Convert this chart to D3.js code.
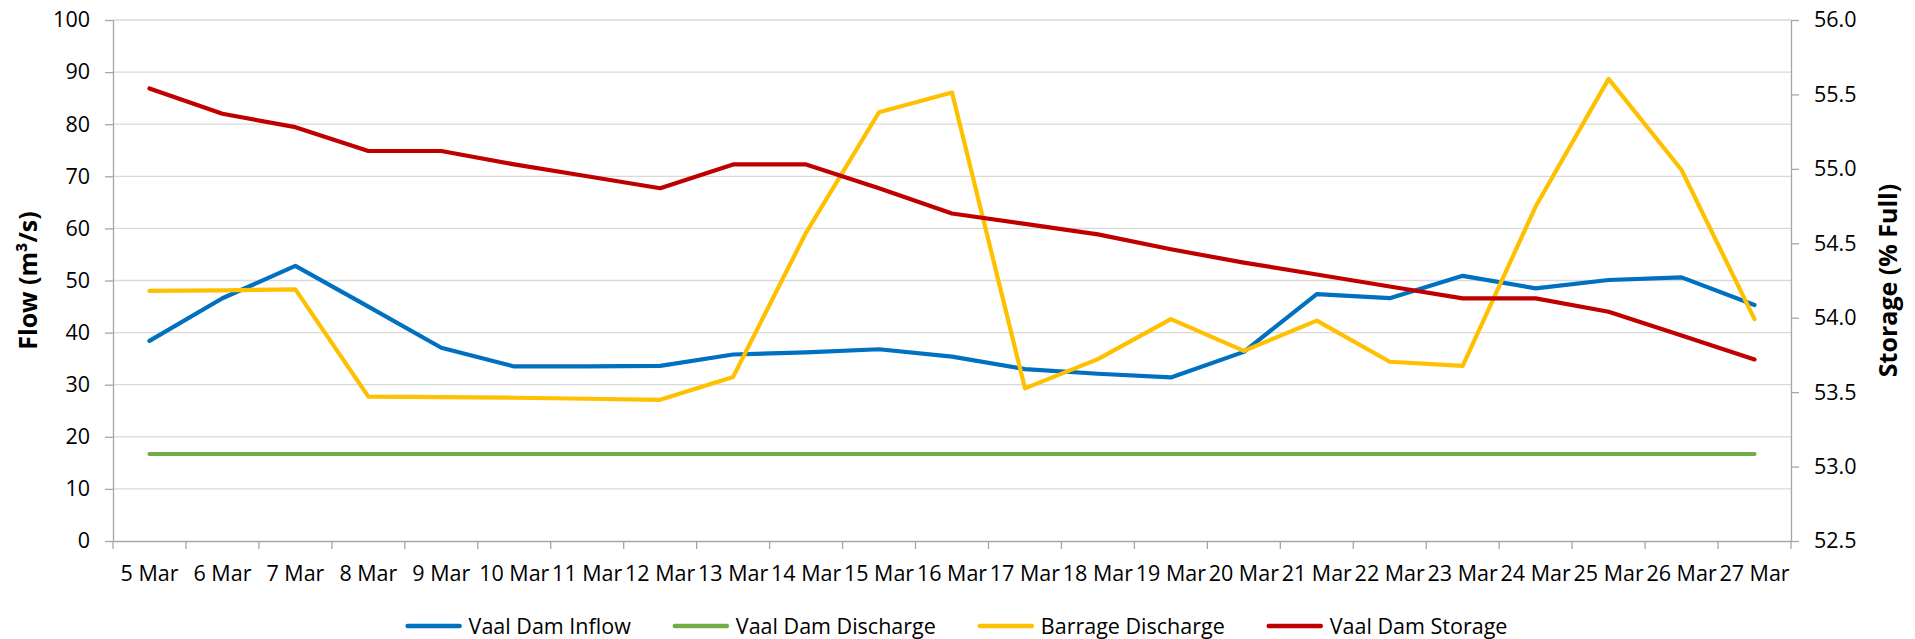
<!DOCTYPE html>
<html>
<head>
<meta charset="utf-8">
<script src="https://cdn.jsdelivr.net/npm/d3@7"></script>
<style>
  body { margin: 0; background: #fff; }
  text { font-family: "Open Sans", sans-serif; fill: #000; }
</style>
</head>
<body>
<div id="chart"></div>
<script>
// 5 Mar - 27 Mar
const DATES = [
  "5 Mar", "6 Mar", "7 Mar", "8 Mar", "9 Mar", "10 Mar", "11 Mar", "12 Mar",
  "13 Mar", "14 Mar", "15 Mar", "16 Mar", "17 Mar", "18 Mar", "19 Mar", "20 Mar",
  "21 Mar", "22 Mar", "23 Mar", "24 Mar", "25 Mar", "26 Mar", "27 Mar",
];

// m3/s
const VAAL_INFLOW = [
  38.4, 46.6, 52.8, 45.0, 37.1, 33.5, 33.5, 33.6, 35.8, 36.2, 36.8, 35.4,
  33.0, 32.1, 31.4, 36.3, 47.4, 46.6, 50.9, 48.5, 50.1, 50.6, 45.3,
];
const VAAL_DISCHARGE = [
  16.7, 16.7, 16.7, 16.7, 16.7, 16.7, 16.7, 16.7, 16.7, 16.7, 16.7, 16.7,
  16.7, 16.7, 16.7, 16.7, 16.7, 16.7, 16.7, 16.7, 16.7, 16.7, 16.7,
];
const BARRAGE_DISCHARGE = [
  48.0, 48.1, 48.3, 27.7, 27.6, 27.5, 27.3, 27.1, 31.5, 59.2, 82.3, 86.1,
  29.3, 34.9, 42.6, 36.5, 42.3, 34.4, 33.6, 64.2, 88.7, 71.2, 42.6,
];
// % full
const VAAL_STORAGE = [
  55.54, 55.37, 55.28, 55.12, 55.12, 55.03, 54.95, 54.87, 55.03, 55.03, 54.87, 54.70,
  54.63, 54.56, 54.46, 54.37, 54.29, 54.21, 54.13, 54.13, 54.04, 53.88, 53.72,
];

const FLOW_TICKS = [0, 10, 20, 30, 40, 50, 60, 70, 80, 90, 100];
const STORAGE_TICKS = [52.5, 53.0, 53.5, 54.0, 54.5, 55.0, 55.5, 56.0];

const SERIES = [
  { name: "Vaal Dam Inflow", values: VAAL_INFLOW, color: "#0070c0", axis: "flow" },
  { name: "Vaal Dam Discharge", values: VAAL_DISCHARGE, color: "#70ad47", axis: "flow" },
  { name: "Barrage Discharge", values: BARRAGE_DISCHARGE, color: "#ffc000", axis: "flow" },
  { name: "Vaal Dam Storage", values: VAAL_STORAGE, color: "#c00000", axis: "storage" },
];

const renderChart = ({ element, width, height, margin }) => {
  const [top, right, bottom, left] = margin;
  const axisColor = "#a6a6a6";

  const x = d3.scaleBand().domain(DATES).range([0, width]);
  const y = d3.scaleLinear().domain([0, 100]).range([height, 0]);
  const y2 = d3.scaleLinear().domain([52.5, 56]).range([height, 0]);

  const svg = d3
    .select(element)
    .append("svg")
    .attr("width", width + left + right)
    .attr("height", height + top + bottom);

  const g = svg.append("g").attr("transform", `translate(${left},${top})`);

  // gridlines
  g.append("g")
    .selectAll("line")
    .data(FLOW_TICKS.filter((d) => d > 0))
    .join("line")
    .attr("x1", 0)
    .attr("x2", width)
    .attr("y1", (d) => y(d))
    .attr("y2", (d) => y(d))
    .attr("stroke", "#d9d9d9")
    .attr("stroke-width", 1.3);

  // x axis: labels centered, tick marks between categories
  const xAxis = g
    .append("g")
    .attr("transform", `translate(0,${height})`)
    .call(d3.axisBottom(x).tickSize(0).tickSizeOuter(0).tickPadding(25));
  xAxis.selectAll("text").style("font-size", "21.5px");

  g.append("g")
    .selectAll("line")
    .data([...DATES.map((d) => x(d)), width])
    .join("line")
    .attr("x1", (d) => d)
    .attr("x2", (d) => d)
    .attr("y1", height)
    .attr("y2", height + 8)
    .attr("stroke", axisColor)
    .attr("stroke-width", 1.3);

  const yAxis = g
    .append("g")
    .call(d3.axisLeft(y).tickValues(FLOW_TICKS).tickSize(8).tickSizeOuter(0).tickPadding(15));

  const y2Axis = g
    .append("g")
    .attr("transform", `translate(${width},0)`)
    .call(
      d3
        .axisRight(y2)
        .tickValues(STORAGE_TICKS)
        .tickFormat(d3.format(".1f"))
        .tickSize(8)
        .tickSizeOuter(0)
        .tickPadding(15)
    );

  [xAxis, yAxis, y2Axis].forEach((a) => {
    a.select(".domain").attr("stroke", axisColor).attr("stroke-width", 1.3);
    a.selectAll(".tick line").attr("stroke", axisColor).attr("stroke-width", 1.3);
    a.selectAll("text").style("font-size", "21.5px").attr("fill", "#000");
  });

  // series
  SERIES.forEach((s) => {
    const scale = s.axis === "flow" ? y : y2;
    const line = d3
      .line()
      .x((d, i) => x(DATES[i]) + x.bandwidth() / 2)
      .y((d) => scale(d));
    g.append("path")
      .datum(s.values)
      .attr("fill", "none")
      .attr("stroke", s.color)
      .attr("stroke-width", 4.2)
      .attr("stroke-linejoin", "round")
      .attr("stroke-linecap", "round")
      .attr("d", line);
  });

  // axis titles
  svg.append("text")
    .attr("transform", `translate(37,${top + height / 2}) rotate(-90)`)
    .attr("text-anchor", "middle")
    .style("font-size", "25px")
    .style("font-weight", "bold")
    .text("Flow (m³/s)");

  svg.append("text")
    .attr("transform", `translate(1897,${top + height / 2}) rotate(-90)`)
    .attr("text-anchor", "middle")
    .style("font-size", "25px")
    .style("font-weight", "bold")
    .text("Storage (% Full)");

  // legend
  const legend = svg.append("g");
  let cursor = 0;
  SERIES.forEach((s) => {
    const item = legend.append("g").attr("transform", `translate(${cursor},0)`);
    item.append("line")
      .attr("x1", 0)
      .attr("x2", 52)
      .attr("stroke", s.color)
      .attr("stroke-width", 4.5)
      .attr("stroke-linecap", "round");
    const label = item.append("text")
      .attr("x", 61)
      .attr("dy", "0.35em")
      .style("font-size", "21.5px")
      .text(s.name);
    cursor += 61 + label.node().getComputedTextLength() + 44;
  });
  const legendWidth = cursor - 44;
  legend.attr("transform", `translate(${(width + left + right - legendWidth) / 2},626)`);

  return g;
};

renderChart({
  element: "#chart",
  width: 1678,
  height: 521,
  margin: [20, 124, 98, 113],
});
</script>
</body>
</html>
